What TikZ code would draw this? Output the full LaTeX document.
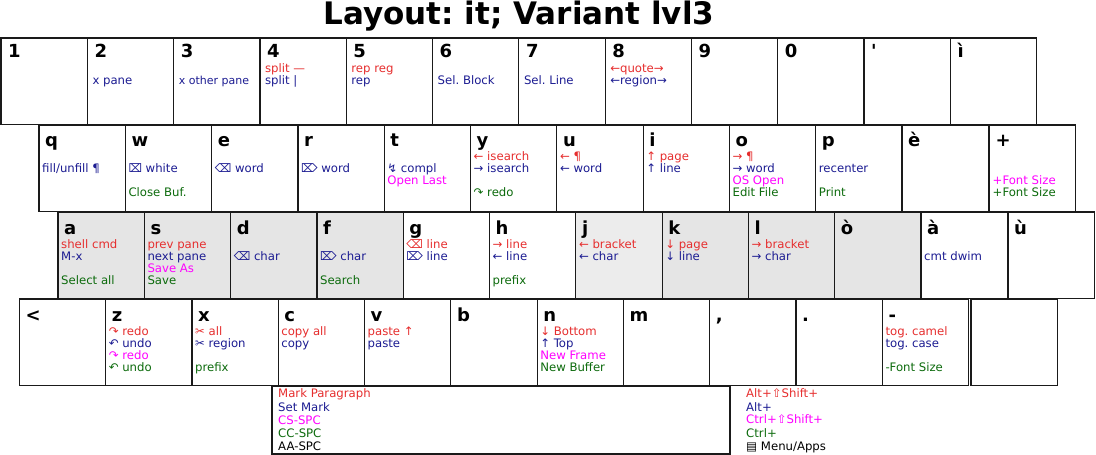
\documentclass[tikz,border=0pt]{standalone}
\usepackage{fontspec}
\setmainfont{DejaVu Sans}
\newfontfamily\plainfont{DejaVu Sans}
\definecolor{kred}{HTML}{E62E2E}
\definecolor{knavy}{HTML}{1C1C92}
\definecolor{kmag}{HTML}{FF00FF}
\definecolor{kgreen}{HTML}{0D6B0D}
\definecolor{kborder}{HTML}{1A1A1A}
\definecolor{kgray}{HTML}{E5E5E5}
\definecolor{klgray}{HTML}{ECECEC}
\tikzset{
  keybox/.style={draw=kborder, line width=1.2pt, minimum width=86.3pt, minimum height=86.6pt, anchor=north west, inner sep=0pt, outer sep=0pt},
  keylbl/.style={anchor=base west, inner sep=0pt, font=\fontsize{18}{18}\selectfont\bfseries},
  ktxt/.style={anchor=base west, inner sep=0pt, font=\fontsize{11.7}{12}\selectfont},
  titletxt/.style={inner sep=0pt, font=\fontsize{31}{31}\selectfont\bfseries},
}
\def\lx{6.5pt}\def\ly{21pt}\def\tx{3pt}
\def\ta{35pt}\def\tb{47pt}\def\tc{59pt}\def\td{71pt}
\newcommand{\kb}[9]{%
  \node[keybox, fill=#4] (#1) at (#2,#3) {};
  \node[keylbl, xshift=\lx, yshift=-\ly] (#1-l) at (#1.north west) {#5};
  \def\kbtmp{#6}\ifx\kbtmp\empty\else\node[ktxt, text=kred, xshift=\tx, yshift=-\ta] (#1-a) at (#1.north west) {#6};\fi
  \def\kbtmp{#7}\ifx\kbtmp\empty\else\node[ktxt, text=knavy, xshift=\tx, yshift=-\tb] (#1-b) at (#1.north west) {#7};\fi
  \def\kbtmp{#8}\ifx\kbtmp\empty\else\node[ktxt, text=kmag, xshift=\tx, yshift=-\tc] (#1-c) at (#1.north west) {#8};\fi
  \def\kbtmp{#9}\ifx\kbtmp\empty\else\node[ktxt, text=kgreen, xshift=\tx, yshift=-\td] (#1-d) at (#1.north west) {#9};\fi
}
\begin{document}
\frenchspacing
\begin{tikzpicture}[x=1pt, y=-1pt]
\useasboundingbox (0,0) rectangle (1096,455);
\node[titletxt] (title) at (519,16) {Layout: it; Variant lvl3};
% row 1
\def\lx{7pt}\def\ly{19.5pt}\def\tx{5pt}
\def\ta{34.3pt}\def\tb{46.3pt}\def\tc{58.3pt}\def\td{70.3pt}
\kb{k1}{1}{38}{white}{1}{}{}{}{}
\kb{k2}{87.3}{38}{white}{2}{}{x pane}{}{}
\kb{k3}{173.6}{38}{white}{3}{}{\fontsize{11}{12}\selectfont x other pane}{}{}
\kb{k4}{259.9}{38}{white}{4}{split —}{split |}{}{}
\kb{k5}{346.2}{38}{white}{5}{rep reg}{rep}{}{}
\kb{k6}{432.5}{38}{white}{6}{}{Sel. Block}{}{}
\kb{k7}{518.8}{38}{white}{7}{}{Sel. Line}{}{}
\kb{k8}{605.1}{38}{white}{8}{←quote→}{←region→}{}{}
\kb{k9}{691.4}{38}{white}{9}{}{}{}{}
\kb{k0}{777.7}{38}{white}{0}{}{}{}{}
\kb{kapos}{864}{38}{white}{\plainfont\bfseries '}{}{}{}{}
\kb{kigr}{950.3}{38}{white}{ì}{}{}{}{}
% row 2
\def\lx{6pt}\def\ly{21.5pt}\def\tx{3pt}
\def\ta{35pt}\def\tb{47pt}\def\tc{59pt}\def\td{71pt}
\kb{kq}{39}{125}{white}{q}{}{fill/unfill ¶}{}{}
\kb{kw}{125.3}{125}{white}{w}{}{⌧ white}{}{Close Buf.}
\kb{ke}{211.6}{125}{white}{e}{}{⌫ word}{}{}
\kb{kr}{297.9}{125}{white}{r}{}{⌦ word}{}{}
\kb{kt}{384.2}{125}{white}{t}{}{↯ compl}{Open Last}{}
\kb{ky}{470.5}{125}{white}{y}{← isearch}{→ isearch}{}{↷ redo}
\kb{ku}{556.8}{125}{white}{u}{← ¶}{← word}{}{}
\kb{ki}{643.1}{125}{white}{i}{↑ page}{↑ line}{}{}
\kb{ko}{729.4}{125}{white}{o}{→ ¶}{→ word}{OS Open}{Edit File}
\kb{kp}{815.7}{125}{white}{p}{}{recenter}{}{Print}
\kb{kegr}{902}{125}{white}{è}{}{}{}{}
\kb{kplus}{989.5}{125}{white}{+}{}{}{+Font Size}{+Font Size}
% row 3
\def\ly{22pt}
\def\ta{36pt}\def\tb{48pt}\def\tc{60pt}\def\td{72pt}
\kb{ka}{58}{212}{kgray}{a}{shell cmd}{M-x}{}{Select all}
\kb{ks}{144.3}{212}{kgray}{s}{prev pane}{next pane}{Save As}{Save}
\kb{kd}{230.6}{212}{kgray}{d}{}{⌫ char}{}{}
\kb{kf}{316.9}{212}{kgray}{f}{}{⌦ char}{}{Search}
\kb{kg}{403.2}{212}{white}{g}{⌫ line}{⌦ line}{}{}
\kb{kh}{489.5}{212}{white}{h}{→ line}{← line}{}{prefix}
\kb{kj}{575.8}{212}{klgray}{j}{← bracket}{← char}{}{}
\kb{kk}{662.1}{212}{kgray}{k}{↓ page}{↓ line}{}{}
\kb{kl}{748.4}{212}{kgray}{l}{→ bracket}{→ char}{}{}
\kb{kogr}{834.7}{212}{kgray}{ò}{}{}{}{}
\kb{kagr}{921}{212}{white}{à}{}{cmt dwim}{}{}
\kb{kugr}{1008}{212}{white}{ù}{}{}{}{}
% row 4
\def\ta{36pt}\def\tb{48pt}\def\tc{60pt}\def\td{72pt}
\kb{kless}{19.3}{299}{white}{<}{}{}{}{}
\kb{kz}{105.6}{299}{white}{z}{↷ redo}{↶ undo}{↷ redo}{↶ undo}
\kb{kx}{191.9}{299}{white}{x}{✂ all}{✂ region}{}{prefix}
\kb{kc}{278.2}{299}{white}{c}{copy all}{copy}{}{}
\kb{kv}{364.5}{299}{white}{v}{paste ↑}{paste}{}{}
\kb{kb}{450.8}{299}{white}{b}{}{}{}{}
\kb{kn}{537.1}{299}{white}{n}{↓ Bottom}{↑ Top}{New Frame}{New Buffer}
\kb{km}{623.4}{299}{white}{m}{}{}{}{}
\kb{kcomma}{709.7}{299}{white}{,}{}{}{}{}
\kb{kdot}{796}{299}{white}{.}{}{}{}{}
\kb{kminus}{882.3}{299}{white}{-}{tog. camel}{tog. case}{}{-Font Size}
\node[keybox, fill=white] (kextra) at (971,299) {};
% space bar
\node[keybox, minimum width=458pt, minimum height=68pt, fill=white] (space) at (272,386) {};
\node[ktxt, text=kred, xshift=6pt, yshift=-11pt] (sp1) at (space.north west) {Mark Paragraph};
\node[ktxt, text=knavy, xshift=6pt, yshift=-25pt] (sp2) at (space.north west) {Set Mark};
\node[ktxt, text=kmag, xshift=6pt, yshift=-38pt] (sp3) at (space.north west) {CS-SPC};
\node[ktxt, text=kgreen, xshift=6pt, yshift=-51pt] (sp4) at (space.north west) {CC-SPC};
\node[ktxt, text=black, xshift=6pt, yshift=-64pt] (sp5) at (space.north west) {AA-SPC};
% legend
\node[ktxt, text=kred] (lg1) at (746,397) {Alt+⇧Shift+};
\node[ktxt, text=knavy] (lg2) at (746,411) {Alt+};
\node[ktxt, text=kmag] (lg3) at (746,423.5) {Ctrl+⇧Shift+};
\node[ktxt, text=kgreen] (lg4) at (746,437) {Ctrl+};
\node[ktxt, text=black] (lg5) at (746,450) {▤ Menu/Apps};
\end{tikzpicture}
\end{document}
